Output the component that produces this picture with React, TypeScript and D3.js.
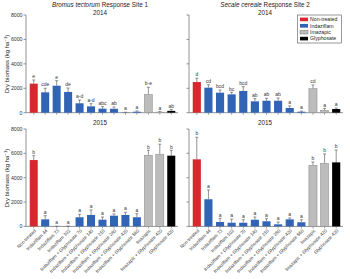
import React from "react";
import * as d3 from "d3";

const categories = [
  "Non-treated",
  "Indaziflam 44",
  "Indaziflam 73",
  "Indaziflam 102",
  "Indaziflam + Glyphosate 70",
  "Indaziflam + Glyphosate 140",
  "Indaziflam + Glyphosate 210",
  "Indaziflam + Glyphosate 280",
  "Indaziflam + Glyphosate 420",
  "Indaziflam + Glyphosate 560",
  "Imazapic",
  "Imazapic + Glyphosate 420",
  "Glyphosate 420",
];
const groups = [
  "Non-treated",
  "Indaziflam", "Indaziflam", "Indaziflam", "Indaziflam", "Indaziflam",
  "Indaziflam", "Indaziflam", "Indaziflam", "Indaziflam",
  "Imazapic", "Imazapic",
  "Glyphosate",
];
const legendGroups = ["Non-treated", "Indaziflam", "Imazapic", "Glyphosate"];
const groupColors = ["#d42a2e", "#3164b5", "#bcbcbc", "#000000"];

const yTicks = [0, 2000, 4000, 6000, 8000];

// Bromus tectorum, Site 1
const s1y2014 = [2380, 1670, 2210, 1700, 770, 520, 330, 320, 20, 80, 1500, 50, 150];
const s1y2014Err = [2680, 2000, 2620, 2020, 1040, 740, 490, 470, 40, 150, 2080, 100, 260];
const s1y2014Let = ["e", "cde", "e", "de", "a-d", "a-d", "abc", "ab", "a", "a", "b-e", "a", "ab"];

const s1y2015 = [5450, 580, 10, 10, 750, 940, 550, 880, 940, 750, 5840, 5920, 5810];
const s1y2015Err = [5810, 880, 20, 20, 1000, 1350, 770, 1020, 1160, 1040, 6250, 6750, 6250];
const s1y2015Let = ["b", "a", "a", "a", "a", "a", "a", "a", "a", "a", "b", "b", "b"];

// Secale cereale, Site 2
const s2y2014 = [2510, 2050, 1640, 1500, 1780, 930, 980, 980, 385, 80, 1970, 200, 300];
const s2y2014Err = [2820, 2290, 1860, 1670, 2130, 1150, 1180, 1200, 550, 130, 2270, 350, 380];
const s2y2014Let = ["d", "cd", "bcd", "bc", "bcd", "ab", "ab", "ab", "a", "a", "cd", "a", "a"];

const s2y2015 = [5510, 2230, 360, 300, 300, 550, 420, 170, 580, 340, 5020, 5180, 5260];
const s2y2015Err = [7320, 2990, 660, 600, 550, 770, 630, 360, 690, 550, 5290, 5950, 6270];
const s2y2015Let = ["b", "a", "a", "a", "a", "a", "a", "a", "a", "a", "b", "b", "b"];

const FONT = "Liberation Sans, Arial, sans-serif";
const AX = "#777";

type PanelProps = {
  x0: number; x1: number; yTop: number; yZero: number;
  values: number[]; errs: number[]; letters: string[];
  showYLabels: boolean; showXLabels: boolean;
};

function Panel({ x0, x1, yTop, yZero, values, errs, letters, showYLabels, showXLabels }: PanelProps) {
  const x = d3.scaleBand<string>().domain(categories).range([x0 + 2, x1]).paddingInner(0.3).paddingOuter(0.15);
  const y = d3.scaleLinear().domain([0, 8000]).range([yZero, yTop]);
  const bw = x.bandwidth();
  return (
    <g>
      <line x1={x0} x2={x0} y1={y(0)} y2={y(8000)} stroke={AX} strokeWidth={0.8} />
      <line x1={x0} x2={x1 + 1} y1={y(0)} y2={y(0)} stroke={AX} strokeWidth={0.8} />
      {yTicks.map((t) => (
        <g key={t}>
          <line x1={x0 - 2.5} x2={x0} y1={y(t)} y2={y(t)} stroke={AX} strokeWidth={0.8} />
          {showYLabels && (
            <text x={x0 - 3.5} y={y(t)} dy="0.35em" textAnchor="end" fontSize={5.2} fill="#333" fontFamily={FONT}>
              {t}
            </text>
          )}
        </g>
      ))}
      {categories.map((c, i) => {
        const bx = x(c)!;
        const cx = bx + bw / 2;
        const gi = legendGroups.indexOf(groups[i]);
        const col = groupColors[gi];
        return (
          <g key={c}>
            <line x1={cx} x2={cx} y1={y(0)} y2={y(0) + 2} stroke={AX} strokeWidth={0.7} />
            <line x1={cx} x2={cx} y1={y(values[i])} y2={y(errs[i])} stroke="#666" strokeWidth={0.7} />
            <line x1={cx - 1.5} x2={cx + 1.5} y1={y(errs[i])} y2={y(errs[i])} stroke="#666" strokeWidth={0.7} />
            <rect x={bx} y={y(values[i])} width={bw} height={y(0) - y(values[i])} fill={col}
              stroke={gi === 2 ? "#888" : "none"} strokeWidth={0.5} />
            <text x={cx} y={y(errs[i]) - 1.8} textAnchor="middle" fontSize={5} fill="#333" fontFamily={FONT}>
              {letters[i]}
            </text>
            {showXLabels && (
              <text transform={`translate(${cx + 1.5},${y(0) + 3.5}) rotate(-45)`} textAnchor="end"
                fontSize={4.7} fill="#333" fontFamily={FONT} dy="0.35em">
                {c}
              </text>
            )}
          </g>
        );
      })}
    </g>
  );
}

function YLabel({ cy }: { cy: number }) {
  return (
    <text transform={`translate(8.5,${cy}) rotate(-90)`} textAnchor="middle" fontSize={6} fill="#222" fontFamily={FONT}>
      Dry biomass (kg ha
      <tspan dy={-2} fontSize={4.2}>−1</tspan>
      <tspan dy={2}>)</tspan>
    </text>
  );
}

export default function App() {
  const L = { x0: 26, x1: 177 };
  const R = { x0: 189, x1: 342 };
  const top = { yTop: 15, yZero: 112.7 };
  const bot = { yTop: 129, yZero: 226.4 };
  return (
    <svg width={350} height={279} style={{ position: "absolute", left: 0, top: 0 }}>
      <rect width={350} height={279} fill="#fff" />
      <text x={100} y={7} textAnchor="middle" fontSize={6.3} fill="#222" fontFamily={FONT}>
        <tspan fontStyle="italic">Bromus tectorum</tspan> Response Site 1
      </text>
      <text x={265} y={7} textAnchor="middle" fontSize={6.3} fill="#222" fontFamily={FONT}>
        <tspan fontStyle="italic">Secale cereale</tspan> Response Site 2
      </text>
      <text x={100} y={15} textAnchor="middle" fontSize={6.3} fill="#222" fontFamily={FONT}>2014</text>
      <text x={265} y={15} textAnchor="middle" fontSize={6.3} fill="#222" fontFamily={FONT}>2014</text>
      <text x={100} y={125} textAnchor="middle" fontSize={6.3} fill="#222" fontFamily={FONT}>2015</text>
      <text x={265} y={125} textAnchor="middle" fontSize={6.3} fill="#222" fontFamily={FONT}>2015</text>

      <YLabel cy={64} />
      <YLabel cy={178} />

      <Panel {...L} {...top} values={s1y2014} errs={s1y2014Err} letters={s1y2014Let} showYLabels showXLabels={false} />
      <Panel {...R} {...top} values={s2y2014} errs={s2y2014Err} letters={s2y2014Let} showYLabels={false} showXLabels={false} />
      <Panel {...L} {...bot} values={s1y2015} errs={s1y2015Err} letters={s1y2015Let} showYLabels showXLabels />
      <Panel {...R} {...bot} values={s2y2015} errs={s2y2015Err} letters={s2y2015Let} showYLabels={false} showXLabels />

      <g>
        <rect x={297.5} y={15} width={44} height={28} fill="#fff" stroke="#555" strokeWidth={0.6} />
        {legendGroups.map((g, i) => (
          <g key={g}>
            <rect x={300} y={17.6 + i * 6.4} width={8} height={3.6} fill={groupColors[i]}
              stroke={i === 2 ? "#777" : "none"} strokeWidth={0.5} />
            <text x={310} y={19.4 + i * 6.4} dy="0.35em" fontSize={5.2} fill="#222" fontFamily={FONT}>{g}</text>
          </g>
        ))}
      </g>
    </svg>
  );
}
